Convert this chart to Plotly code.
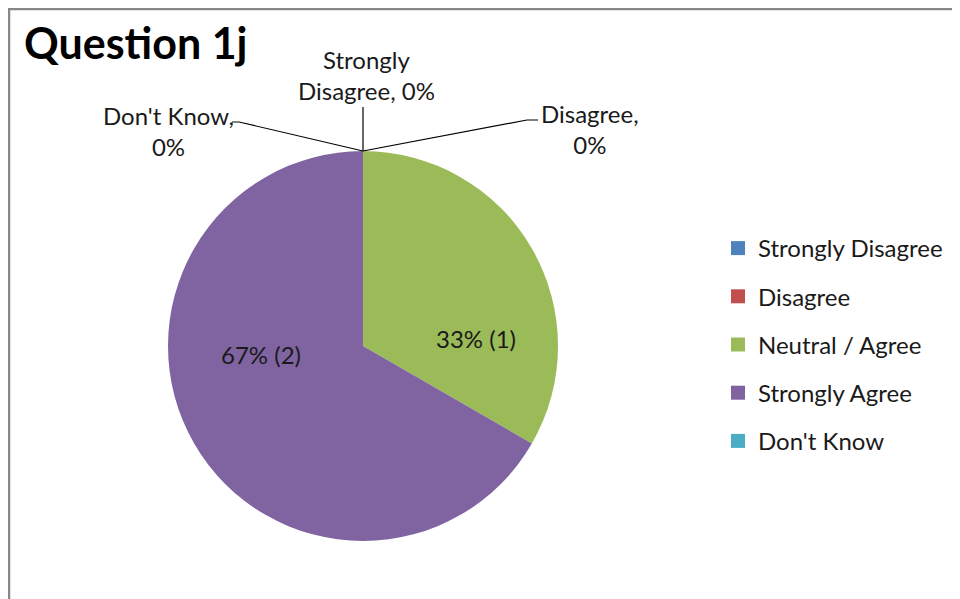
import plotly.graph_objects as go

# the page adds an 8px body margin, so the figure is drawn 8px in and 8px smaller
OFF = 8
W, H = 960 - OFF, 599 - OFF

labels = ["Strongly Disagree", "Disagree", "Neutral / Agree", "Strongly Agree", "Don't Know"]
counts = [0, 0, 1, 2, 0]
colors = ["#4F81BD", "#C0504D", "#9BBB59", "#8064A2", "#4BACC6"]
title = "Question 1j"

FONT = "Lato, 'Open Sans', sans-serif"
TXT = "#1a1a1a"
FS = 24


def px(x, y):
    # page pixel position -> paper coordinates
    return (x - OFF) / W, 1 - (y - OFF) / H


total = sum(counts)
pct = [round(c / total * 100) for c in counts]

# pie geometry (page pixels)
cx, cy, r = 363, 346, 195
x0, y0 = px(cx - r, cy + r)
x1, y1 = px(cx + r, cy - r)

fig = go.Figure()
fig.add_trace(go.Pie(
    labels=labels, values=counts, sort=False, direction="clockwise", rotation=0,
    marker=dict(colors=colors, line=dict(width=0)),
    textinfo="none", hoverinfo="label+value+percent",
    domain=dict(x=[x0, x1], y=[y0, y1]), showlegend=False,
))

# legend entries as square markers, one group each so the gap can be set
for lab, col in zip(labels, colors):
    fig.add_trace(go.Scatter(
        x=[None], y=[None], mode="markers", name=lab, legendgroup=lab,
        marker=dict(symbol="square", size=14, color=col),
    ))

annotations = []
# labels inside the slices
inside_pos = {2: (476, 338), 3: (261, 354)}
for i, (x, y) in inside_pos.items():
    ax_, ay_ = px(x, y)
    annotations.append(dict(x=ax_, y=ay_, xref="paper", yref="paper", showarrow=False,
                            xanchor="center", yanchor="middle",
                            text=f"{pct[i]}% ({counts[i]})", font=dict(size=FS, color=TXT)))

# zero slices with leader lines to the top of the pie
zero_lbl = {
    0: dict(text="Strongly<br>Disagree, {}%", pos=(366, 75),
            line=[(cx, cy - r), (cx, 107)]),
    4: dict(text="Don't Know,<br>{}%", pos=(168, 131),
            line=[(cx, cy - r), (239, 122), (232, 122)]),
    1: dict(text="Disagree,<br>{}%", pos=(590, 129),
            line=[(cx, cy - r), (527, 120), (538, 120)]),
}
shapes = []
for i, d in zero_lbl.items():
    ax_, ay_ = px(*d["pos"])
    annotations.append(dict(x=ax_, y=ay_, xref="paper", yref="paper", showarrow=False,
                            text=d["text"].format(pct[i]), align="center",
                            xanchor="center", yanchor="middle",
                            font=dict(size=FS, color=TXT)))
    pts = [px(*p) for p in d["line"]]
    path = "M " + " L ".join(f"{a},{b}" for a, b in pts)
    shapes.append(dict(type="path", path=path, xref="paper", yref="paper",
                       line=dict(color="#000000", width=1.2)))

# chart frame (top and left edges visible)
fx0, fy0 = px(9, 640)
fx1, fy1 = px(1000, 9)
shapes.append(dict(type="rect", xref="paper", yref="paper", x0=fx0, y0=fy0, x1=fx1, y1=fy1,
                   line=dict(color="#878787", width=2.5), layer="below"))

tx, ty = px(22, 42)
annotations.append(dict(x=tx, y=ty, xref="paper", yref="paper", showarrow=False,
                        xanchor="left", yanchor="middle",
                        text=f"<b>{title}</b>", font=dict(size=43, color="#000000")))

lx, ly = px(718, 226)
fig.update_layout(
    width=W, height=H, margin=dict(l=0, r=0, t=0, b=0),
    paper_bgcolor="white", plot_bgcolor="white",
    font=dict(family=FONT, color=TXT),
    xaxis=dict(visible=False), yaxis=dict(visible=False),
    legend=dict(x=lx, y=ly, xanchor="left", yanchor="top", tracegroupgap=14,
                font=dict(size=FS, color=TXT), itemwidth=30, bgcolor="rgba(0,0,0,0)"),
    annotations=annotations, shapes=shapes,
)

fig.write_html("out.html")
